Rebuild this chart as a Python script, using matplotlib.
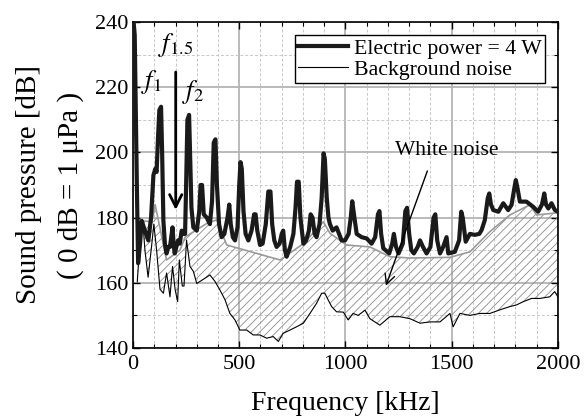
import numpy as np
import matplotlib
matplotlib.use("Agg")
import matplotlib.pyplot as plt
from matplotlib.ticker import MultipleLocator

plt.rcParams['font.family'] = ['Liberation Serif', 'DejaVu Serif']
plt.rcParams['mathtext.fontset'] = 'stix'

# electric power = 4 W (thick line)
pw_f = [0, 8, 18, 24, 33, 41, 56, 72, 85, 96, 105, 111, 118, 124, 132, 137, 143,
        150, 158, 166, 174, 180, 186, 191, 196, 204, 212, 220, 229, 237, 245,
        250, 256, 264, 270, 275, 284, 300, 312, 318, 325, 333, 347, 362, 372,
        380, 388, 395, 405, 417, 430, 445, 453, 460, 470, 480, 492, 500, 506,
        512, 520, 530, 543, 558, 570, 577, 585, 598, 610, 625, 637, 647, 655,
        665, 676, 690, 700, 707, 715, 723, 740, 755, 765, 772, 780, 788, 802,
        815, 828, 836, 845, 855, 864, 878, 888, 897, 903, 912, 920, 927, 940,
        958, 970, 982, 998, 1015, 1025, 1032, 1040, 1053, 1076, 1100, 1123,
        1140, 1153, 1160, 1168, 1178, 1206, 1220, 1228, 1238, 1250, 1270, 1282,
        1290, 1300, 1310, 1322, 1340, 1351, 1365, 1382, 1400, 1415, 1423, 1432,
        1445, 1460, 1476, 1484, 1515, 1535, 1545, 1552, 1566, 1586, 1609, 1630,
        1641, 1656, 1670, 1677, 1685, 1696, 1720, 1743, 1766, 1782, 1795, 1802,
        1810, 1821, 1852, 1884, 1907, 1925, 1936, 1944, 1955, 1970, 1986, 2000]
pw_db = [242, 236, 190, 166, 172, 179, 176, 173, 180, 193, 195, 194, 205, 213,
         214, 200, 179, 172, 169, 171, 171, 174, 177, 172, 169, 171, 173, 172,
         176, 175, 175, 190, 210, 211.5, 196, 183, 177, 176, 182, 190, 190, 181,
         180, 178, 185, 203, 204, 190, 178, 174, 175, 180, 184, 178, 174, 173,
         177, 190, 197, 195, 182, 175, 173, 176, 181, 181, 176, 171.6, 172, 178,
         188, 188, 178, 173, 171, 172, 175, 176, 170, 168, 171, 175, 183, 191,
         191, 180, 172, 173, 176, 181, 180, 175, 174, 178, 186, 199.7, 198, 186,
         180, 178, 176, 177, 175, 173, 173, 175, 180, 185, 181, 175, 174, 173.6,
         172, 174, 181, 182, 175, 170.6, 169, 172, 175, 171, 169, 172, 182, 183,
         175, 170, 169, 171, 173, 171, 169, 171, 180, 181, 173, 169, 171, 174,
         169, 169.5, 173, 181.8, 180, 172.6, 175, 174.7, 175, 176.2, 179.2, 186,
         187.4, 184, 182.3, 181.8, 184.4, 182.3, 183.9, 189, 191.5, 189, 184.9,
         184.9, 183.3, 181.8, 184, 187.4, 184, 182.8, 184.4, 182.3, 181.8]

# background noise (thin line)
bg_f = [20, 33, 46, 56, 71, 87, 98, 111, 127, 143, 158, 174, 186, 198, 210, 218,
        232, 240, 252, 268, 284, 300, 315, 334, 362, 386, 409, 433, 456, 480,
        503, 535, 566, 597, 629, 660, 684, 707, 739, 770, 802, 833, 864, 888,
        903, 915, 935, 958, 990, 1013, 1036, 1060, 1092, 1115, 1162, 1209, 1256,
        1303, 1351, 1398, 1445, 1492, 1507, 1539, 1586, 1633, 1680, 1727, 1774,
        1805, 1837, 1876, 1915, 1962, 1985, 2000]
bg_db = [160.3, 173, 179, 170, 161.7, 171, 178, 170, 158, 156.8, 163, 155.7, 165,
         158, 154.2, 167, 159, 159, 173.1, 165, 163.5, 159.8, 160.4, 161.2,
         162.4, 160.4, 157.8, 154.8, 150.6, 148.6, 145.5, 145.5, 144, 144, 143,
         143.5, 142, 144.5, 145.5, 146.5, 147.6, 150.6, 153.7, 156.8, 156.8,
         155.2, 152.7, 151.1, 151, 148.6, 150.6, 150, 151.6, 149, 147, 149.6,
         149.6, 149, 147.6, 148, 148, 150.6, 146.5, 150.6, 150, 150.6, 150.6,
         151.7, 152.7, 153.2, 154.2, 155.2, 155.2, 155.7, 157.3, 155.7]

# white noise upper envelope (gray line)
wn_f = [20, 47, 88, 104, 158, 221, 245, 347, 394, 441, 692, 802, 896, 927, 1005,
        1115, 1209, 1303, 1492, 1586, 1680, 1774, 1868, 1900, 2000]
wn_db = [169, 179, 178.7, 184, 167, 170, 174, 178.2, 179.3, 171.6, 167, 172,
         178.7, 175.2, 171.6, 171, 168, 167.6, 167.8, 169.5, 175.7, 180.8, 183.9,
         180.8, 181.5]

fig = plt.figure(figsize=(5.86, 4.19), dpi=100)
ax = fig.add_axes([0.227, 0.1695, 0.725, 0.778])

# hatched white-noise region between envelope and background
poly_x = wn_f + bg_f[::-1]
poly_y = wn_db + bg_db[::-1]
plt.rcParams['hatch.linewidth'] = 0.6
ax.fill(poly_x, poly_y, facecolor='none', edgecolor='#8c8c8c', hatch='////',
        linewidth=0, zorder=2)
ax.plot(wn_f, wn_db, color='#9a9a9a', lw=1.2, zorder=3)

l1, = ax.plot(pw_f, pw_db, color='#1a1a1a', lw=3, zorder=5,
              label='Electric power = 4 W')
l2, = ax.plot(bg_f, bg_db, color='black', lw=0.8, zorder=4,
              label='Background noise')

ax.set_xlim(0, 2000)
ax.set_ylim(140, 240)
ax.xaxis.set_major_locator(MultipleLocator(500))
ax.xaxis.set_minor_locator(MultipleLocator(100))
ax.yaxis.set_major_locator(MultipleLocator(20))
ax.yaxis.set_minor_locator(MultipleLocator(10))
ax.tick_params(which='both', direction='in', top=True, right=True,
               labelsize=16, color='black')
ax.tick_params(which='major', length=5, width=1)
ax.tick_params(which='minor', length=3, width=0.8)
ax.tick_params(axis='x', pad=5)
ax.grid(which='major', color='#b4b4b4', lw=1.3, ls='-', zorder=0)
ax.grid(which='minor', color='#c8c8c8', lw=0.7, ls=(0, (3, 2)), zorder=0)
ax.set_axisbelow(True)
for s in ax.spines.values():
    s.set_linewidth(1.2)

ax.set_xlabel('Frequency [kHz]', fontsize=20, labelpad=12)
ax.set_ylabel('Sound pressure [dB]\n( 0 dB = 1 μPa )', fontsize=21,
              labelpad=8, linespacing=1.7)

leg = ax.legend(handles=[l1, l2], loc='upper right', fontsize=15.7,
                frameon=True, fancybox=False, edgecolor='black', framealpha=1,
                handlelength=2.3, borderpad=0.15, labelspacing=0.05,
                handletextpad=0.25, borderaxespad=0,
                bbox_to_anchor=(0.969, 0.96))
leg.get_frame().set_linewidth(1.0)

ax.text(88, 221.7, '$f_1$', fontsize=19, ha='center', va='center')
ax.text(198, 233, '$f_{1.5}$', fontsize=19, ha='center', va='center', zorder=6)
ax.text(282, 218.5, '$f_2$', fontsize=19, ha='center', va='center')
ax.annotate('', xy=(201, 181.5), xytext=(201, 225.5),
            arrowprops=dict(arrowstyle='->', color='black', lw=2,
                            mutation_scale=22), zorder=7)

ax.text(1478, 200.7, 'White noise', fontsize=15.5, ha='center', va='center')
ax.annotate('', xy=(1186, 158.3), xytext=(1390, 195.1),
            arrowprops=dict(arrowstyle='->', color='black', lw=1,
                            mutation_scale=18), zorder=7)

fig.savefig('out.png', dpi=100)
